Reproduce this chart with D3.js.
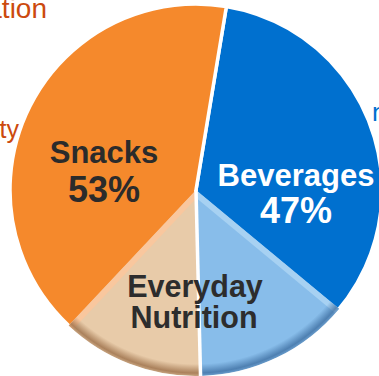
<!DOCTYPE html>
<html>
<head>
<meta charset="utf-8">
<script src="https://cdn.jsdelivr.net/npm/d3@7"></script>
<style>
  html, body { margin: 0; padding: 0; background: #fff; }
  svg { display: block; }
  text { font-family: "Liberation Sans", Arial, sans-serif; }
</style>
</head>
<body>
<svg id="chart" width="379" height="376"></svg>
<script>
// Portfolio split (percent of revenue)
const categories = ["Beverages", "Snacks"];
const shares = [47, 53];
const shareLabels = ["47%", "53%"];
// Slice of each category that falls under "Everyday Nutrition" (percent of total)
const everydayShares = [13.6, 12.4];
const everydayLabel = ["Everyday", "Nutrition"];
// Surrounding theme labels (partly outside the frame)
const sideLabels = ["Innovation", "Affordability", "nutrients"];

const colors = {
  Beverages: "#0070CF",
  Snacks: "#F5892C",
  everyday: { Beverages: "#88BDEA", Snacks: "#E8CBA9" },
  edge: { Beverages: "#A9D2F3", Snacks: "#FAC79D" },
  rim: { Beverages: "#2F5F93", Snacks: "#8A5A33" }
};

const W = 379, H = 376;
const cx = 196, cy = 190, R = 186;
const startOffset = 9.4 * Math.PI / 180;

const svg = d3.select("#chart");

// side theme labels
svg.append("text").attr("x", 47).attr("y", 18).attr("text-anchor", "end")
  .attr("font-size", 28).attr("fill", "#CC4A0E").text(sideLabels[0]);
svg.append("text").attr("x", 19).attr("y", 138).attr("text-anchor", "end")
  .attr("font-size", 25).attr("fill", "#CC4A0E").text(sideLabels[1]);
svg.append("text").attr("x", 372).attr("y", 121).attr("text-anchor", "start")
  .attr("font-size", 26).attr("fill", "#0070CF").text(sideLabels[2]);

const g = svg.append("g").attr("transform", `translate(${cx},${cy})`);
const defs = svg.append("defs");

const pie = d3.pie().sort(null).value(d => d.value)
  .startAngle(startOffset).endAngle(startOffset + 2 * Math.PI);
const data = categories.map((c, i) => ({ name: c, value: shares[i], label: shareLabels[i], sub: everydayShares[i] }));
const arcs = pie(data);
const arc = d3.arc().innerRadius(0).outerRadius(R);

// main slices
g.selectAll("path.slice").data(arcs).join("path")
  .attr("class", "slice")
  .attr("d", arc)
  .attr("fill", d => colors[d.data.name])
  .attr("stroke", "#fff")
  .attr("stroke-width", 3.5)
  .attr("stroke-linejoin", "round");

// Everyday Nutrition sub-sectors: beverages end of one slice, start of snacks
const toRad = p => p / 100 * 2 * Math.PI;
const subs = arcs.map(a => {
  if (a.data.name === "Beverages") {
    return { name: a.data.name, startAngle: a.endAngle - toRad(a.data.sub), endAngle: a.endAngle, outerEdge: "start" };
  }
  return { name: a.data.name, startAngle: a.startAngle, endAngle: a.startAngle + toRad(a.data.sub), outerEdge: "end" };
});

// rim shading gradients
Object.keys(colors.rim).forEach(k => {
  const grad = defs.append("radialGradient")
    .attr("id", "rim-" + k)
    .attr("gradientUnits", "userSpaceOnUse")
    .attr("cx", 0).attr("cy", 0).attr("r", R);
  grad.append("stop").attr("offset", (R - 12) / R).attr("stop-color", colors.rim[k]).attr("stop-opacity", 0);
  grad.append("stop").attr("offset", (R - 3) / R).attr("stop-color", colors.rim[k]).attr("stop-opacity", 0.65);
  grad.append("stop").attr("offset", 1).attr("stop-color", colors.rim[k]).attr("stop-opacity", 0.35);
});

subs.forEach((s, i) => {
  const clipId = "clip-sub-" + i;
  defs.append("clipPath").attr("id", clipId)
    .append("path").attr("d", arc(s));

  const sg = g.append("g").attr("clip-path", `url(#${clipId})`);
  sg.append("path").attr("d", arc(s)).attr("fill", colors.everyday[s.name]);

  // light bevel along the outer straight edge
  const a = s.outerEdge === "start" ? s.startAngle : s.endAngle;
  sg.append("line")
    .attr("x1", 0).attr("y1", 0)
    .attr("x2", R * Math.sin(a)).attr("y2", -R * Math.cos(a))
    .attr("stroke", colors.edge[s.name])
    .attr("stroke-width", 12)
    .attr("opacity", 0.95);

  // darker bevel along the arc
  sg.append("path")
    .attr("d", d3.arc().innerRadius(R - 13).outerRadius(R + 1)(s))
    .attr("fill", `url(#rim-${s.name})`);
});

// divider between the two categories through the sub-sectors
const splitAngle = arcs[0].endAngle;
g.append("line")
  .attr("x1", 0).attr("y1", 0)
  .attr("x2", (R + 2) * Math.sin(splitAngle)).attr("y2", -(R + 2) * Math.cos(splitAngle))
  .attr("stroke", "#fff").attr("stroke-width", 3.5);

// labels
const labelLayout = {
  Snacks: { x: -92, y1: -27, y2: 12, color: "#2B2B2B" },
  Beverages: { x: 100, y1: -4, y2: 33, color: "#FFFFFF" }
};
arcs.forEach(a => {
  const L = labelLayout[a.data.name];
  g.append("text").attr("x", L.x).attr("y", L.y1).attr("text-anchor", "middle")
    .attr("font-size", 31).attr("font-weight", "bold").attr("fill", L.color)
    .text(a.data.name);
  g.append("text").attr("x", L.x).attr("y", L.y2).attr("text-anchor", "middle")
    .attr("font-size", 36).attr("font-weight", "bold").attr("fill", L.color)
    .text(a.data.label);
});

g.append("text").attr("x", -1).attr("y", 107).attr("text-anchor", "middle")
  .attr("font-size", 30.5).attr("font-weight", "bold").attr("fill", "#2D2D2D")
  .text(everydayLabel[0]);
g.append("text").attr("x", -2).attr("y", 138).attr("text-anchor", "middle")
  .attr("font-size", 30.5).attr("font-weight", "bold").attr("fill", "#2D2D2D")
  .text(everydayLabel[1]);
</script>
</body>
</html>
